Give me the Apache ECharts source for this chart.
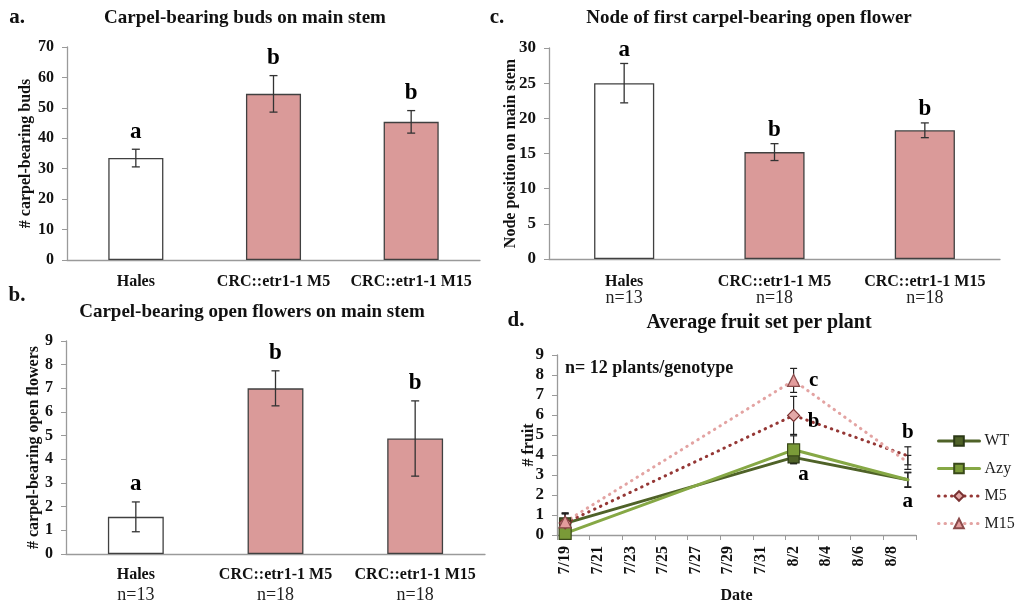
<!DOCTYPE html>
<html>
<head>
<meta charset="utf-8">
<script src="https://cdn.jsdelivr.net/npm/echarts@6/dist/echarts.min.js"></script>
<style>
  html, body { margin: 0; padding: 0; background: #fff; }
  #chart { width: 1015px; height: 605px; }
</style>
</head>
<body>
<div id="chart"></div>
<script>
// categorias de los tres paneles de barras
var barCats = ['Hales', 'CRC::etr1-1 M5', 'CRC::etr1-1 M15'];
var plantsN = [13, 18, 18];

// a. yemas con carpelos
var budsMean = [33.5, 54.6, 45.4];
var budsErr = [2.9, 6.0, 3.7];
var budsLetters = ['a', 'b', 'b'];

// b. flores abiertas con carpelos
var flowersMean = [1.57, 7.0, 4.88];
var flowersErr = [0.63, 0.74, 1.59];
var flowersLetters = ['a', 'b', 'b'];

// c. nodo de la primera flor
var nodeMean = [25.0, 15.2, 18.3];
var nodeErr = [2.8, 1.2, 1.05];
var nodeLetters = ['a', 'b', 'b'];

// d. frutos por planta
var days = ['7/19', '7/20', '7/21', '7/22', '7/23', '7/24', '7/25', '7/26', '7/27', '7/28', '7/29',
            '7/30', '7/31', '8/1', '8/2', '8/3', '8/4', '8/5', '8/6', '8/7', '8/8', '8/9'];
var sampleDates = ['7/19', '8/2', '8/9'];
var wtFruit = [0.58, 3.88, 2.76];
var wtErr = [0.5, 0.3, 0.35];
var azyFruit = [0.08, 4.26, 2.76];
var azyErr = [0.1, 0.7, 0.38];
var m5Fruit = [0.6, 5.98, 3.96];
var m5Err = [0.45, 0.95, 0.45];
var m15Fruit = [0.66, 7.73, 3.63];
var m15Err = [0.45, 0.6, 0.35];
var letters82 = ['c', 'b', 'a'];   // M15, M5, WT/Azy
var letters89 = ['b', 'a'];        // M5/M15, WT/Azy

var FONT = "'Liberation Serif', 'Times New Roman', serif";
var PINK = '#DA9A99';
var AXIS_GRAY = '#9a9a9a';

// barras de error + letra encima
const errorBars = (idx, means, errs, letters, gap) => {
    return {
        type: 'custom',
        xAxisIndex: idx,
        yAxisIndex: idx,
        z: 10,
        silent: true,
        data: means.map((m, i) => [i, m - errs[i], m + errs[i]]),
        renderItem: (params, api) => {
            var lo = api.coord([api.value(0), api.value(1)]);
            var hi = api.coord([api.value(0), api.value(2)]);
            var st = { stroke: '#333', lineWidth: 1.3 };
            return {
                type: 'group',
                children: [
                    { type: 'line', shape: { x1: hi[0], y1: hi[1], x2: lo[0], y2: lo[1] }, style: st },
                    { type: 'line', shape: { x1: hi[0] - 4, y1: hi[1], x2: hi[0] + 4, y2: hi[1] }, style: st },
                    { type: 'line', shape: { x1: lo[0] - 4, y1: lo[1], x2: lo[0] + 4, y2: lo[1] }, style: st },
                    { type: 'text', x: hi[0], y: hi[1] - gap,
                      style: { text: letters[params.dataIndex], fill: '#000', font: 'bold 23px ' + FONT,
                               textAlign: 'center', textVerticalAlign: 'bottom' } }
                ]
            };
        }
    };
};

const barSeries = (idx, means) => ({
    type: 'bar',
    xAxisIndex: idx,
    yAxisIndex: idx,
    barWidth: '40%',
    data: means.map((v, i) => ({
        value: v,
        itemStyle: { color: i === 0 ? '#ffffff' : PINK, borderColor: '#404040', borderWidth: 1.3 }
    }))
});

const barXAxis = (idx, withN, margin, lh) => ({
    type: 'category',
    gridIndex: idx,
    data: barCats,
    axisLine: { lineStyle: { color: AXIS_GRAY, width: 1.3 } },
    axisTick: { show: false },
    axisLabel: {
        margin: margin,
        interval: 0,
        formatter: (v, i) => withN ? '{c|' + v + '}\n{n|n=' + plantsN[i] + '}' : '{c|' + v + '}',
        rich: {
            c: { fontFamily: FONT, fontWeight: 'bold', fontSize: 16, color: '#111', lineHeight: lh },
            n: { fontFamily: FONT, fontSize: 18, color: '#222', lineHeight: lh }
        }
    }
});

const valYAxis = (idx, max, interval, name, gap, size) => ({
    type: 'value',
    gridIndex: idx,
    min: 0,
    max: max,
    interval: interval,
    name: name,
    nameLocation: 'middle',
    nameGap: gap,
    nameMoveOverlap: false,
    nameTextStyle: { fontFamily: FONT, fontWeight: 'bold', fontSize: 16, color: '#111' },
    splitLine: { show: false },
    axisLine: { show: true, lineStyle: { color: AXIS_GRAY, width: 1.3 } },
    axisTick: { show: true, length: 5, lineStyle: { color: AXIS_GRAY } },
    axisLabel: { fontFamily: FONT, fontWeight: 'bold', fontSize: size, color: '#111', margin: 13 }
});

// series de frutos
const fruitLine = (name, vals, color, dash, symbol, size, fill, border) => ({
    name: name,
    type: 'line',
    xAxisIndex: 3,
    yAxisIndex: 3,
    z: 5,
    data: sampleDates.map((d, i) => [d, vals[i]]),
    symbol: symbol,
    symbolSize: size,
    lineStyle: { color: color, width: 3, type: dash, cap: 'round' },
    itemStyle: { color: fill, borderColor: border, borderWidth: 1.2 }
});

const fruitErrors = () => {
    var rows = [];
    [[wtFruit, wtErr], [azyFruit, azyErr], [m5Fruit, m5Err], [m15Fruit, m15Err]].forEach((p) => {
        sampleDates.forEach((d, i) => {
            rows.push([days.indexOf(d), p[0][i] - p[1][i], p[0][i] + p[1][i]]);
        });
    });
    return {
        type: 'custom',
        xAxisIndex: 3,
        yAxisIndex: 3,
        z: 3,
        silent: true,
        data: rows,
        renderItem: (params, api) => {
            var lo = api.coord([api.value(0), api.value(1)]);
            var hi = api.coord([api.value(0), api.value(2)]);
            var st = { stroke: '#222', lineWidth: 1.2 };
            return {
                type: 'group',
                children: [
                    { type: 'line', shape: { x1: hi[0], y1: hi[1], x2: lo[0], y2: lo[1] }, style: st },
                    { type: 'line', shape: { x1: hi[0] - 3.5, y1: hi[1], x2: hi[0] + 3.5, y2: hi[1] }, style: st },
                    { type: 'line', shape: { x1: lo[0] - 3.5, y1: lo[1], x2: lo[0] + 3.5, y2: lo[1] }, style: st }
                ]
            };
        }
    };
};

const fruitLetters = () => {
    var i82 = days.indexOf('8/2'), i89 = days.indexOf('8/9');
    var rows = [
        [i82, m15Fruit[1], 20, 0, letters82[0]],
        [i82, m5Fruit[1], 20, 6, letters82[1]],
        [i82, wtFruit[1] - wtErr[1], 10, 11, letters82[2]],
        [i89, m5Fruit[2] + m5Err[2], 0, -14, letters89[0]],
        [i89, azyFruit[2] - azyErr[2], 0, 14, letters89[1]]
    ];
    return {
        type: 'custom',
        xAxisIndex: 3,
        yAxisIndex: 3,
        z: 12,
        silent: true,
        data: rows.map((r) => [r[0], r[1]]),
        renderItem: (params, api) => {
            var r = rows[params.dataIndex];
            var p = api.coord([r[0], r[1]]);
            return {
                type: 'text', x: p[0] + r[2], y: p[1] + r[3],
                style: { text: r[4], fill: '#000', font: 'bold 21px ' + FONT,
                         textAlign: 'center', textVerticalAlign: 'middle' }
            };
        }
    };
};

const txt = (text, x, y, size, weight) => ({
    type: 'text', x: x, y: y, silent: true,
    style: { text: text, fill: '#111', font: (weight || 'bold') + ' ' + size + 'px ' + FONT,
             textAlign: 'center', textVerticalAlign: 'middle' }
});

var chart = echarts.init(document.getElementById('chart'), null, { renderer: 'canvas' });

var option = {
    backgroundColor: '#ffffff',
    animation: false,
    textStyle: { fontFamily: FONT },
    graphic: [
        txt('a.', 17, 18, 21),
        txt('b.', 17, 296, 21),
        txt('c.', 497, 18, 21),
        txt('d.', 516, 321, 21),
        txt('Carpel-bearing buds on main stem', 245, 18, 19),
        txt('Carpel-bearing open flowers on main stem', 252, 312, 19),
        txt('Node of first carpel-bearing open flower', 749, 18, 19),
        txt('Average fruit set per plant', 759, 323, 20),
        { type: 'text', x: 565, y: 368, silent: true,
          style: { text: 'n= 12 plants/genotype', fill: '#111', font: 'bold 18px ' + FONT,
                   textAlign: 'left', textVerticalAlign: 'middle' } }
    ],
    grid: [
        { left: 67, right: 535, top: 47, bottom: 345 },
        { left: 66, right: 530, top: 341, bottom: 51 },
        { left: 549, right: 15, top: 48, bottom: 346 },
        { left: 557, right: 99, top: 355, bottom: 69 }
    ],
    legend: {
        data: ['WT', 'Azy', 'M5', 'M15'],
        orient: 'vertical',
        left: 937,
        top: 433,
        padding: 0,
        itemWidth: 41,
        itemHeight: 12,
        itemGap: 11.5,
        lineStyle: { width: 3 },
        textStyle: { fontFamily: FONT, fontSize: 16, color: '#222' }
    },
    xAxis: [
        barXAxis(0, false, 13, 18),
        barXAxis(1, true, 11, 20),
        barXAxis(2, true, 15, 16),
        {
            type: 'category',
            gridIndex: 3,
            data: days,
            name: 'Date',
            nameLocation: 'middle',
            nameGap: 53,
            nameTextStyle: { fontFamily: FONT, fontWeight: 'bold', fontSize: 16, color: '#111' },
            axisLine: { lineStyle: { color: AXIS_GRAY, width: 1.3 } },
            axisTick: { show: true, interval: 1, length: 5, lineStyle: { color: AXIS_GRAY } },
            axisLabel: { interval: 1, rotate: 90, margin: 11, fontFamily: FONT, fontWeight: 'bold',
                         fontSize: 16, color: '#111' }
        }
    ],
    yAxis: [
        valYAxis(0, 70, 10, '# carpel-bearing buds', 33, 16),
        valYAxis(1, 9, 1, '# carpel-bearing open flowers', 24, 16),
        valYAxis(2, 30, 5, 'Node position on main stem', 30, 17),
        valYAxis(3, 9, 1, '# fruit', 20, 17)
    ],
    series: [
        barSeries(0, budsMean),
        errorBars(0, budsMean, budsErr, budsLetters, 6),
        barSeries(1, flowersMean),
        errorBars(1, flowersMean, flowersErr, flowersLetters, 6),
        barSeries(2, nodeMean),
        errorBars(2, nodeMean, nodeErr, nodeLetters, 2),
        fruitErrors(),
        fruitLine('WT', wtFruit, '#4F6228', 'solid', 'rect', 11, '#4F6228', '#2b3816'),
        fruitLine('Azy', azyFruit, '#86A845', 'solid', 'rect', 12, '#7A9A38', '#3a4a1a'),
        fruitLine('M5', m5Fruit, '#953735', [0.5, 6], 'diamond', 12, '#E3A9A8', '#7a3232'),
        fruitLine('M15', m15Fruit, '#E3A3A2', [0.5, 6], 'triangle', 12, '#E39C9C', '#8a4a4a'),
        fruitLetters()
    ]
};

chart.setOption(option);
</script>
</body>
</html>
